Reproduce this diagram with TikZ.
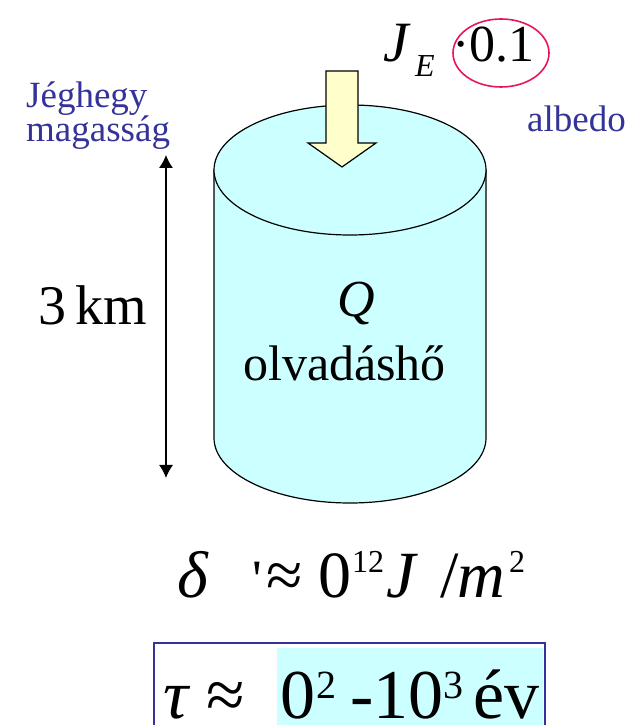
\documentclass[tikz,border=0pt]{standalone}
\usepackage{fontspec}
\setmainfont{Liberation Serif}
\usepackage{tikz}
\usetikzlibrary{arrows.meta}
\definecolor{txtblue}{RGB}{51,51,153}
\definecolor{icecyan}{RGB}{204,255,255}
\definecolor{sunyellow}{RGB}{255,255,204}
\definecolor{ringred}{RGB}{232,20,95}
\newcommand{\fs}[1]{\fontsize{#1}{#1}\selectfont}

\begin{document}
\begin{tikzpicture}[x=1pt,y=1pt,txt/.style={inner sep=0pt,anchor=base west},bluetxt/.style={txt,text=txtblue,font=\fs{37}},ice/.style={fill=icecyan,draw=black,line width=1.2pt}]
\useasboundingbox (0,0) rectangle (633,725);
% cylinder
\path[ice] (214,555) -- (214,287) arc[start angle=180,end angle=360,x radius=136,y radius=65] -- (486,555);
\draw[ice] (350,555) ellipse[x radius=136,y radius=65];
% incoming energy arrow
\draw[fill=sunyellow,line width=1.2pt,line join=miter] (326,654) -- (358,654) -- (358,582) -- (376,582) -- (342,558) -- (308,582) -- (326,582) -- cycle;
\node[txt,font=\fs{52}\itshape] (q) at (337,408) {Q};
\node[txt,font=\fs{50}] (olv) at (243,344) {olvadáshő};
% height
\coordinate (htop) at (166,570);
\coordinate (hbot) at (166,247);
\draw[line width=1.2pt,{Latex[length=13pt,width=14pt]}-{Latex[length=13pt,width=14pt]}] (hbot) -- (htop);
\node[txt,font=\fs{56}] (km) at (38,400) {3\,km};
\node[bluetxt] (jeg) at (26,617) {Jéghegy};
\node[bluetxt] (mag) at (26,583) {magasság};
% flux and albedo
\node[txt,font=\fs{57}\itshape] (je) at (383,663) {J};
\node[txt,font=\fs{32}\itshape] (jsub) at (415,648) {E};
\node[txt,font=\fs{52}] (dot) at (452,663) {·};
\node[txt,font=\fs{52}] (alb) at (469,663) {0.1};
\draw[ringred,line width=1.6pt] (501,672) ellipse[x radius=48,y radius=34];
\node[bluetxt] (albtxt) at (527,593) {albedo};
% energy per area
\node[txt,font=\fs{66}\itshape] (delta) at (177,127) {δ};
\node[txt,font=\fs{54}] (tick) at (252,127) {\textquotesingle};
\node[txt,font=\fs{66}] (dapprox) at (266,127) {≈};
\node[txt,font=\fs{66}] (dzero) at (318,127) {0};
\node[txt,font=\fs{32}] (dexp) at (352,152) {12};
\node[txt,font=\fs{66}\itshape] (jj) at (386,127) {J};
\node[txt,font=\fs{66}] (slash) at (440,127) {/};
\node[txt,font=\fs{66}\itshape] (mm) at (457,127) {m};
\node[txt,font=\fs{32}] (mexp) at (509,152) {2};
% time scale
\fill[icecyan] (277,0) rectangle (543,77);
\draw[txtblue,line width=1.6pt] (154,-2) -- (154,82) -- (545,82) -- (545,-2);
\node[txt,font=\fs{70}\itshape] (tau) at (163,6) {τ};
\node[txt,font=\fs{70}] (tapprox) at (206,6) {≈};
\node[txt,font=\fs{70}] (tzero) at (280,6) {0};
\node[txt,font=\fs{40}] (texp) at (316,26) {2};
\node[txt,font=\fs{70}] (dash) at (350,6) {-};
\node[txt,font=\fs{70}] (ten) at (373,6) {10};
\node[txt,font=\fs{40}] (tenexp) at (443,26) {3};
\node[txt,font=\fs{70}] (ev) at (473,6) {év};
\end{tikzpicture}
\end{document}
